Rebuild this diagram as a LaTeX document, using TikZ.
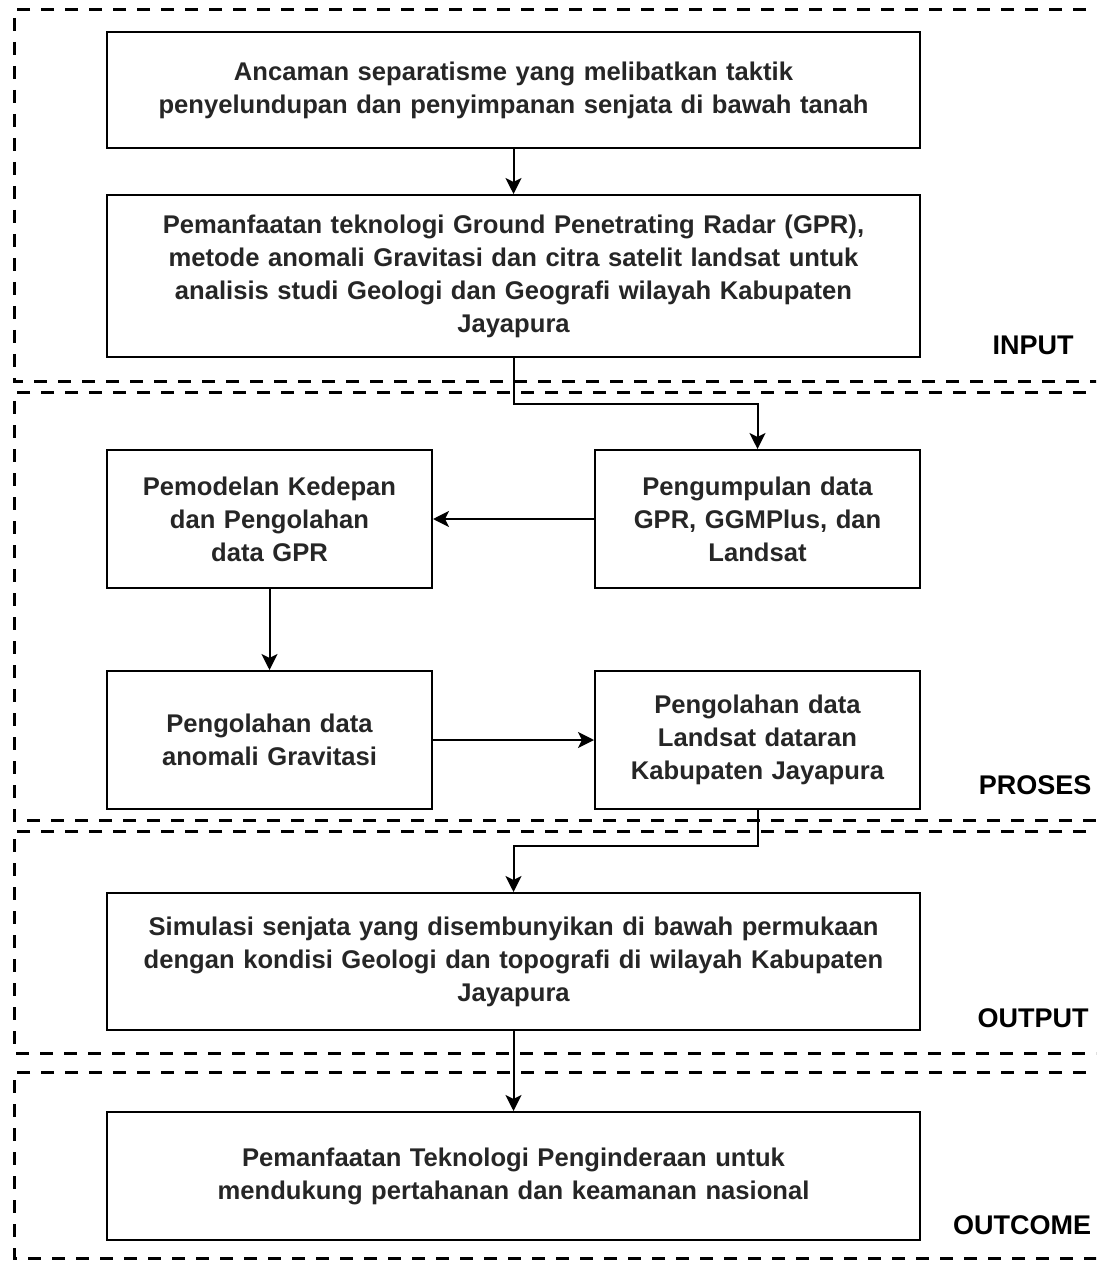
\documentclass[tikz,border=0pt]{standalone}
\usepackage{fontspec}
\setmainfont{Liberation Sans}
\usetikzlibrary{arrows.meta,positioning}

\begin{document}
\begin{tikzpicture}[x=0.5pt,y=-0.5pt,>={Stealth[length=8pt,width=8pt,inset=2pt]},
    blok/.style={draw, line width=1pt, align=center, inner sep=0pt,
      font=\bfseries\fontsize{12.8}{16.5}\selectfont, text=black!85},
    lebar/.style={minimum width=406.5pt, text width=400pt},
    sempit/.style={minimum width=162.5pt, text width=160pt},
    batas/.style={dash pattern=on 6.5pt off 5.5pt, line width=1.5pt},
    tahap/.style={font=\bfseries\fontsize{13.5}{15}\selectfont},
    panah/.style={->, line width=1pt}]
  \useasboundingbox (0,0) rectangle (1096,1261);
  \clip (0,0) rectangle (1096,1261);

  % batas tahapan
  \draw[batas] (1110,10) -- (14,10) -- (14,382) -- (1110,382);
  \draw[batas] (1110,393) -- (14,393) -- (14,820) -- (1110,820);
  \draw[batas] (1110,831) -- (14,831) -- (14,1053) -- (1110,1053);
  \draw[batas] (1110,1072) -- (14,1072) -- (14,1258) -- (1110,1258);

  \node[tahap] (input) at (1033,345) {INPUT};
  \node[tahap] (proses) at (1035,785) {PROSES};
  \node[tahap] (output) at (1033,1018) {OUTPUT};
  \node[tahap] (outcome) at (1022,1225) {OUTCOME};

  % kotak
  \node[blok, lebar, minimum height=58pt] (ancaman) at (513.5,90)
    {Ancaman separatisme yang melibatkan taktik\\
     penyelundupan dan penyimpanan senjata di bawah tanah};
  \node[blok, lebar, minimum height=81pt] (teknologi) at (513.5,276)
    {Pemanfaatan teknologi Ground Penetrating Radar (GPR),\\
     metode anomali Gravitasi dan citra satelit landsat untuk\\
     analisis studi Geologi dan Geografi wilayah Kabupaten\\
     Jayapura};
  \node[blok, sempit, minimum height=69pt] (pemodelan) at (269.5,519)
    {Pemodelan Kedepan\\ dan Pengolahan\\ data GPR};
  \node[blok, sempit, minimum height=69pt] (kumpul) at (757.5,519)
    {Pengumpulan data\\ GPR, GGMPlus, dan\\ Landsat};
  \node[blok, sempit, minimum height=69pt] (gravitasi) at (269.5,740)
    {Pengolahan data\\ anomali Gravitasi};
  \node[blok, sempit, minimum height=69pt] (landsat) at (757.5,740)
    {Pengolahan data\\ Landsat dataran\\ Kabupaten Jayapura};
  \node[blok, lebar, minimum height=68.5pt] (simulasi) at (513.5,961.5)
    {Simulasi senjata yang disembunyikan di bawah permukaan\\
     dengan kondisi Geologi dan topografi di wilayah Kabupaten\\
     Jayapura};
  \node[blok, lebar, minimum height=64pt] (hasil) at (513.5,1176)
    {Pemanfaatan Teknologi Penginderaan untuk\\
     mendukung pertahanan dan keamanan nasional};

  % alur
  \draw[panah] (ancaman) -- (teknologi);
  \draw[panah] (teknologi.south) -- ++(0,46) -| (kumpul.north);
  \draw[panah] (kumpul) -- (pemodelan);
  \draw[panah] (pemodelan) -- (gravitasi);
  \draw[panah] (gravitasi) -- (landsat);
  \draw[panah] (landsat.south) -- ++(0,36) -| (simulasi.north);
  \draw[panah] (simulasi) -- (hasil);
\end{tikzpicture}
\end{document}
